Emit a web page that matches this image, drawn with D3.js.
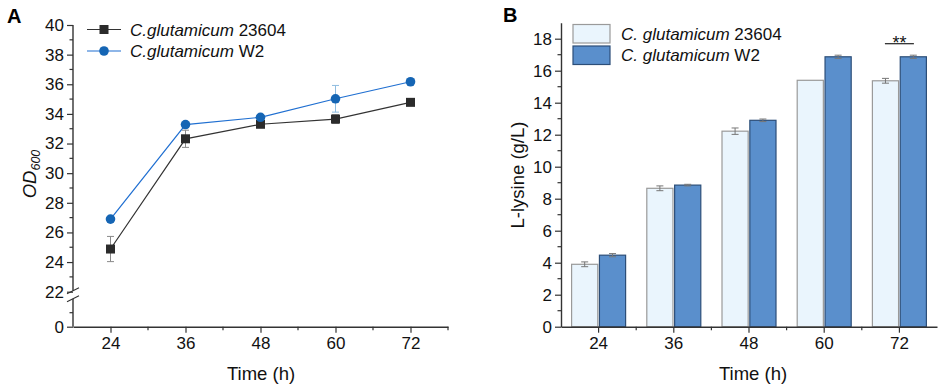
<!DOCTYPE html>
<html>
<head>
<meta charset="utf-8">
<script src="https://cdn.jsdelivr.net/npm/d3@7"></script>
<style>
  body { margin: 0; background: #fff; }
  svg { display: block; font-family: 'Liberation Sans', Arial, sans-serif; }
</style>
</head>
<body>
<svg id="chart" width="941" height="389"></svg>
<script>
// time points (h)
const hours = [24, 36, 48, 60, 72]
const strains = ['C.glutamicum 23604', 'C.glutamicum W2']

// panel A: OD600
const odWT = [24.88, 32.32, 33.3, 33.65, 34.78]
const odWTErr = [0.85, 0.58, 0.15, 0.3, 0.1]
const odW2 = [26.9, 33.28, 33.77, 35.02, 36.17]
const odW2Err = [0.15, 0.1, 0.1, 0.9, 0.15]
const odTicks = [22, 24, 26, 28, 30, 32, 34, 36, 38, 40]

// panel B: L-lysine (g/L)
const lysWT = [3.9, 8.65, 12.22, 15.4, 15.37]
const lysWTErr = [0.15, 0.15, 0.2, 0, 0.15]
const lysW2 = [4.47, 8.85, 12.9, 16.87, 16.87]
const lysW2Err = [0.1, 0.05, 0.08, 0.1, 0.1]
const lysTicks = [0, 2, 4, 6, 8, 10, 12, 14, 16, 18]

const svg = d3.select('#chart')
const axisColor = '#333'

function styleAxis(g) {
  g.select('.domain').attr('stroke', axisColor).attr('stroke-width', 1.4)
  g.selectAll('.tick line').attr('stroke', axisColor).attr('stroke-width', 1.2)
  g.selectAll('.tick text').attr('fill', '#111').attr('font-size', 17)
}

// ---------- Panel A ----------
const xA = d3.scaleLinear().domain([18, 78]).range([73, 448])
const yA = d3.scaleLinear().domain([22, 40]).range([291.7, 25])
const yA0 = d3.scaleLinear().domain([0, 10]).range([326.7, 298.7])

svg.append('text').attr('x', 7).attr('y', 23).attr('font-size', 20).attr('font-weight', 'bold').text('A')

// upper y axis
const gyA = svg.append('g').attr('transform', `translate(${xA.range()[0]},0)`)
gyA.call(d3.axisLeft(yA).tickValues(odTicks).tickSize(6).tickSizeOuter(0).tickPadding(3))
styleAxis(gyA)
gyA.select('.domain').attr('d', `M0,${yA(40)}V${yA(22) - 1}`)
svg.append('g').attr('transform', `translate(${xA.range()[0]},0)`)
  .selectAll('line').data(d3.range(23, 40, 2)).join('line')
  .attr('x1', -3.5).attr('x2', 0).attr('y1', d => yA(d)).attr('y2', d => yA(d))
  .attr('stroke', axisColor).attr('stroke-width', 1.2)

// lower y axis segment (0)
const gyA0 = svg.append('g').attr('transform', `translate(${xA.range()[0]},0)`)
gyA0.call(d3.axisLeft(yA0).tickValues([0]).tickSize(6).tickSizeOuter(0).tickPadding(3))
styleAxis(gyA0)
gyA0.select('.domain').attr('d', `M0,${yA0(10)}V${yA0(0)}`)
svg.append('g').attr('transform', `translate(${xA.range()[0]},0)`)
  .selectAll('line').data([5]).join('line')
  .attr('x1', -3.5).attr('x2', 0).attr('y1', d => yA0(d)).attr('y2', d => yA0(d))
  .attr('stroke', axisColor).attr('stroke-width', 1.2)

// break marks
const bx = xA.range()[0]
const bGap = [yA(22) - 1, yA0(10)]
svg.append('g').selectAll('line').data(bGap).join('line')
  .attr('x1', bx - 6).attr('x2', bx + 6)
  .attr('y1', d => d + 3).attr('y2', d => d - 3)
  .attr('stroke', axisColor).attr('stroke-width', 1.2)

// x axis A
const gxA = svg.append('g').attr('transform', `translate(0,${yA0(0)})`)
gxA.call(d3.axisBottom(xA).tickValues(hours).tickSize(6).tickSizeOuter(0).tickPadding(4))
styleAxis(gxA)
svg.append('g').attr('transform', `translate(0,${yA0(0)})`)
  .selectAll('line').data([30, 42, 54, 66, 78]).join('line')
  .attr('x1', d => xA(d)).attr('x2', d => xA(d)).attr('y1', 0).attr('y2', 3.5)
  .attr('stroke', axisColor).attr('stroke-width', 1.2)

svg.append('text').attr('x', 261).attr('y', 380).attr('text-anchor', 'middle')
  .attr('font-size', 18.5).attr('fill', '#111').text('Time (h)')

const odLabel = svg.append('text')
  .attr('transform', `translate(36,174) rotate(-90)`)
  .attr('text-anchor', 'middle').attr('font-size', 18.5).attr('font-style', 'italic').attr('fill', '#111')
odLabel.append('tspan').text('OD')
odLabel.append('tspan').attr('font-size', 12.5).attr('dy', 4).text('600')

const seriesA = [
  { name: strains[0], vals: odWT, err: odWTErr, color: '#333333', errColor: '#8a8a8a', shape: 'square' },
  { name: strains[1], vals: odW2, err: odW2Err, color: '#1f6fd1', errColor: '#8fbde0', marker: '#1565b4', shape: 'circle' }
]

seriesA.forEach(s => {
  const pts = hours.map((h, i) => ({ h, v: s.vals[i], e: s.err[i] }))
  const g = svg.append('g')
  // error bars
  const eb = g.selectAll('g.err').data(pts).join('g')
  eb.append('line').attr('x1', d => xA(d.h)).attr('x2', d => xA(d.h))
    .attr('y1', d => yA(d.v - d.e)).attr('y2', d => yA(d.v + d.e))
    .attr('stroke', s.errColor).attr('stroke-width', 1)
  ;[-1, 1].forEach(sg => {
    eb.append('line').attr('x1', d => xA(d.h) - 3.5).attr('x2', d => xA(d.h) + 3.5)
      .attr('y1', d => yA(d.v + sg * d.e)).attr('y2', d => yA(d.v + sg * d.e))
      .attr('stroke', s.errColor).attr('stroke-width', 1)
  })
  g.append('path').datum(pts)
    .attr('fill', 'none').attr('stroke', s.color).attr('stroke-width', 1.2)
    .attr('d', d3.line().x(d => xA(d.h)).y(d => yA(d.v)))
  if (s.shape === 'square') {
    g.selectAll('rect').data(pts).join('rect')
      .attr('x', d => xA(d.h) - 4.5).attr('y', d => yA(d.v) - 4.5)
      .attr('width', 9).attr('height', 9).attr('fill', '#2b2b2b')
  } else {
    g.selectAll('circle').data(pts).join('circle')
      .attr('cx', d => xA(d.h)).attr('cy', d => yA(d.v)).attr('r', 4.8).attr('fill', s.marker)
  }
})

// legend A
seriesA.forEach((s, i) => {
  const ly = 29.5 + i * 21.5
  const lg = svg.append('g')
  lg.append('line').attr('x1', 87).attr('x2', 121).attr('y1', ly).attr('y2', ly)
    .attr('stroke', s.color).attr('stroke-width', 1.2)
  if (s.shape === 'square') {
    lg.append('rect').attr('x', 99.5).attr('y', ly - 4.5).attr('width', 9).attr('height', 9).attr('fill', '#2b2b2b')
  } else {
    lg.append('circle').attr('cx', 104).attr('cy', ly).attr('r', 4.8).attr('fill', s.marker)
  }
  const t = lg.append('text').attr('x', 130).attr('y', ly + 6).attr('font-size', 17).attr('fill', '#111')
  const parts = s.name.split(' ')
  t.append('tspan').attr('font-style', 'italic').text(parts[0])
  t.append('tspan').text(' ' + parts[1])
})

// ---------- Panel B ----------
const xB = d3.scaleBand().domain(hours).range([561, 937]).padding(0)
const xSub = d3.scaleBand().domain([0, 1]).range([-27, 27]).paddingInner(0.06)
const yB = d3.scaleLinear().domain([0, 19]).range([326.7, 22.7])

svg.append('text').attr('x', 503).attr('y', 22).attr('font-size', 20).attr('font-weight', 'bold').text('B')

const seriesB = [
  { name: 'C. glutamicum 23604', vals: lysWT, err: lysWTErr, fill: '#eaf5fd', stroke: '#9a9a9a' },
  { name: 'C. glutamicum W2', vals: lysW2, err: lysW2Err, fill: '#5a8fcc', stroke: '#2c4e78' }
]

seriesB.forEach((s, si) => {
  const pts = hours.map((h, i) => ({ h, v: s.vals[i], e: s.err[i] }))
  const g = svg.append('g')
  const cx = d => xB(d.h) + xB.bandwidth() / 2 + xSub(si) + xSub.bandwidth() / 2
  g.selectAll('rect').data(pts).join('rect')
    .attr('x', d => xB(d.h) + xB.bandwidth() / 2 + xSub(si))
    .attr('y', d => yB(d.v))
    .attr('width', xSub.bandwidth())
    .attr('height', d => yB(0) - yB(d.v))
    .attr('fill', s.fill).attr('stroke', s.stroke).attr('stroke-width', 1.2)
  const eb = g.selectAll('g.err').data(pts.filter(d => d.e > 0)).join('g')
  eb.append('line').attr('x1', cx).attr('x2', cx)
    .attr('y1', d => yB(d.v - d.e)).attr('y2', d => yB(d.v + d.e))
    .attr('stroke', '#777').attr('stroke-width', 1)
  ;[-1, 1].forEach(sg => {
    eb.append('line').attr('x1', d => cx(d) - 3.5).attr('x2', d => cx(d) + 3.5)
      .attr('y1', d => yB(d.v + sg * d.e)).attr('y2', d => yB(d.v + sg * d.e))
      .attr('stroke', '#777').attr('stroke-width', 1)
  })
})

const gyB = svg.append('g').attr('transform', `translate(${xB.range()[0]},0)`)
gyB.call(d3.axisLeft(yB).tickValues(lysTicks).tickSize(6).tickSizeOuter(0).tickPadding(3))
styleAxis(gyB)
svg.append('g').attr('transform', `translate(${xB.range()[0]},0)`)
  .selectAll('line').data(d3.range(1, 19, 2)).join('line')
  .attr('x1', -3.5).attr('x2', 0).attr('y1', d => yB(d)).attr('y2', d => yB(d))
  .attr('stroke', axisColor).attr('stroke-width', 1.2)

const gxB = svg.append('g').attr('transform', `translate(0,${yB(0)})`)
gxB.call(d3.axisBottom(xB).tickSize(6).tickSizeOuter(0).tickPadding(4))
styleAxis(gxB)
svg.append('g').attr('transform', `translate(0,${yB(0)})`)
  .selectAll('line').data(hours.slice(1)).join('line')
  .attr('x1', d => xB(d)).attr('x2', d => xB(d)).attr('y1', 0).attr('y2', 3.5)
  .attr('stroke', axisColor).attr('stroke-width', 1.2)

svg.append('text').attr('x', 753).attr('y', 380).attr('text-anchor', 'middle')
  .attr('font-size', 18.5).attr('fill', '#111').text('Time (h)')
svg.append('text').attr('transform', `translate(524,175) rotate(-90)`)
  .attr('text-anchor', 'middle').attr('font-size', 18.5).attr('fill', '#111').text('L-lysine (g/L)')

// legend B
seriesB.forEach((s, i) => {
  const ly = 24.5 + i * 21.5
  svg.append('rect').attr('x', 573).attr('y', ly).attr('width', 37).attr('height', 18.5)
    .attr('fill', s.fill).attr('stroke', s.stroke).attr('stroke-width', 1.2)
  const t = svg.append('text').attr('x', 621).attr('y', ly + 15).attr('font-size', 17).attr('fill', '#111')
  t.append('tspan').attr('font-style', 'italic').text('C. glutamicum')
  t.append('tspan').text(' ' + s.name.split(' ')[2])
})

// significance at 72 h
const sx = xB(72) + xB.bandwidth() / 2
svg.append('line').attr('x1', sx - 14.5).attr('x2', sx + 14.5).attr('y1', 43.7).attr('y2', 43.7)
  .attr('stroke', '#222').attr('stroke-width', 1.2)
svg.append('text').attr('x', sx).attr('y', 49).attr('text-anchor', 'middle')
  .attr('font-size', 18).attr('fill', '#111').text('**')
</script>
</body>
</html>
